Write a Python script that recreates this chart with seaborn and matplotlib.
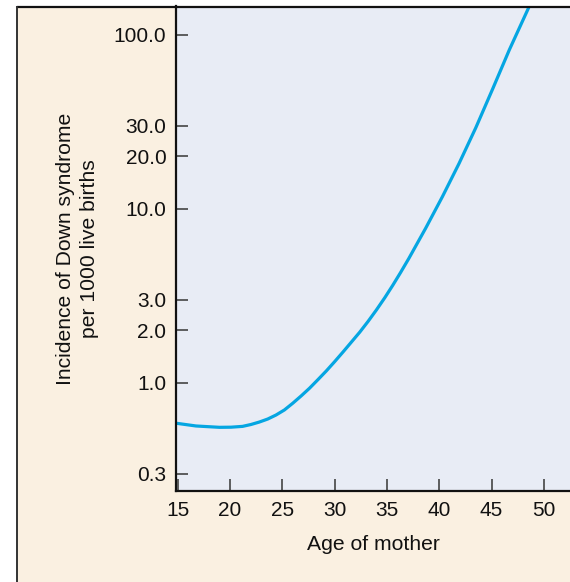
import numpy as np
import pandas as pd
import matplotlib
matplotlib.use("Agg")
import matplotlib.pyplot as plt
from matplotlib.lines import Line2D
from matplotlib.patches import Rectangle
import seaborn as sns

# Data (age of mother vs incidence per 1000 live births)
ages = [14.84, 16.75, 19.0, 20.1, 21.2, 22.0, 22.8, 23.6, 24.4, 25.2, 26.0, 26.8,
        27.6, 28.4, 29.2, 30.0, 30.8, 31.6, 32.4, 33.2, 34.0, 34.8, 35.55, 36.3,
        37.1, 38.7, 40.3, 41.9, 43.5, 45.1, 46.7, 48.6]
incidence = [0.585, 0.564, 0.554, 0.555, 0.561, 0.575, 0.594, 0.618, 0.652, 0.697,
             0.762, 0.839, 0.929, 1.04, 1.167, 1.32, 1.50, 1.71, 1.95, 2.25, 2.62,
             3.08, 3.62, 4.29, 5.18, 7.71, 11.7, 18.2, 29.2, 48.6, 81.7, 145.0]

y_ticks = [0.3, 1.0, 2.0, 3.0, 10.0, 20.0, 30.0, 100.0]
y_tick_labels = ["0.3", "1.0", "2.0", "3.0", "10.0", "20.0", "30.0", "100.0"]
x_ticks = [15, 20, 25, 30, 35, 40, 45, 50]

df = pd.DataFrame({"age": ages, "incidence": incidence})

sns.set_theme(style="white")
plt.rcParams["font.family"] = ["Liberation Sans", "DejaVu Sans"]

W, H = 570, 582
fig = plt.figure(figsize=(W / 100, H / 100), dpi=100, facecolor="white")

BEIGE = "#FAF0E1"
AXBG = "#E8ECF5"
LINE = "#05A6E2"

# beige panel with border
fig.patches.append(Rectangle((17 / W, 0), 1 - 17 / W, 1 - 6.5 / H,
                             transform=fig.transFigure, facecolor=BEIGE,
                             edgecolor="none", zorder=-10))
fig.lines.append(Line2D([16.5 / W, 1], [1 - 6.5 / H, 1 - 6.5 / H],
                        transform=fig.transFigure, color="#111111", lw=1.6, zorder=5))
fig.lines.append(Line2D([17 / W, 17 / W], [0, 1 - 6.5 / H],
                        transform=fig.transFigure, color="#333333", lw=1.4, zorder=5))

left = 176 / W
bottom = (H - 491) / H
top = 1 - 6.5 / H
ax = fig.add_axes([left, bottom, 1 - left, top - bottom])
ax.set_facecolor(AXBG)

sns.lineplot(data=df, x="age", y="incidence", ax=ax, color=LINE, lw=2.3)

ax.set_yscale("log")
ax.set_xlim(14.84, 52.5)
ax.set_ylim(0.2386, 145)
ax.set_yticks(y_ticks)
ax.set_yticklabels(y_tick_labels)
ax.yaxis.set_minor_locator(matplotlib.ticker.NullLocator())
ax.set_xticks(x_ticks)
ax.set_xticklabels([str(t) for t in x_ticks])

for s in ["top", "right"]:
    ax.spines[s].set_visible(False)
for s in ["left", "bottom"]:
    ax.spines[s].set_color("#111111")
    ax.spines[s].set_linewidth(1.6)

ax.tick_params(axis="both", which="major", direction="in", length=8.6, width=1.2,
               color="#444444", labelsize=15, labelcolor="#111111", pad=7,
               left=True, bottom=True)

ax.set_xlabel("Age of mother", fontsize=15.2, color="#111111", labelpad=11)
ax.set_ylabel("Incidence of Down syndrome\nper 1000 live births", fontsize=15.2,
              color="#111111", labelpad=10.5, linespacing=1.33)

fig.savefig("out.png", dpi=100, facecolor=fig.get_facecolor())
